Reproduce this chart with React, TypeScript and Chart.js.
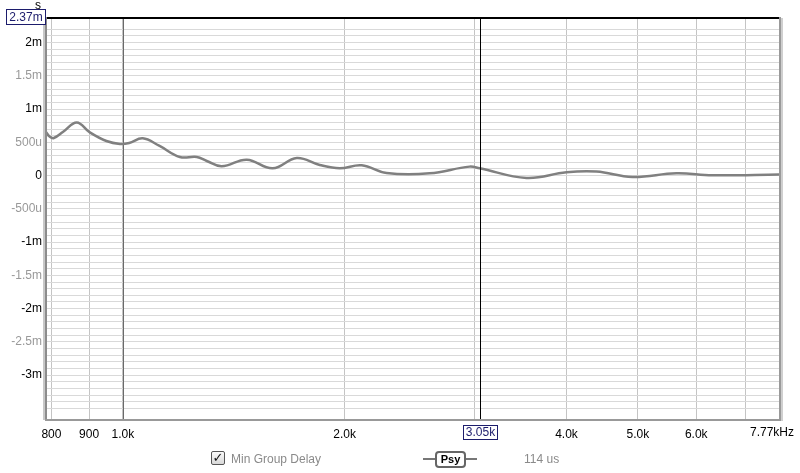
import React, { useEffect, useRef } from "react";
import { Chart, registerables } from "chart.js";

Chart.register(...registerables);

// Frequencies (Hz) and min group delay (ms)
const freqs = [786, 795, 806, 830, 866, 902, 950, 991, 1020, 1064, 1120, 1195, 1260, 1300, 1362, 1473, 1597, 1722, 1850, 1969, 2109, 2280, 2608, 2954, 3049, 3530, 4000, 4392, 4915, 5639, 6310, 7770];
const delayMs = [0.66, 0.59, 0.565, 0.66, 0.8, 0.65, 0.52, 0.475, 0.49, 0.56, 0.45, 0.28, 0.28, 0.22, 0.14, 0.24, 0.11, 0.265, 0.16, 0.11, 0.155, 0.04, 0.035, 0.135, 0.11, -0.035, 0.05, 0.06, -0.02, 0.035, 0.005, 0.015];

const xTickValues = [800, 900, 1000, 2000, 3000, 4000, 5000, 6000, 7000];
const xTickLabels = ["800", "900", "1.0k", "2.0k", "", "4.0k", "5.0k", "6.0k", ""];
const xMin = 789;
const xMax = 7770;
const yMin = -3.66;
const yMax = 2.37;
const yLabelMin = -3;
const markerFreq = 1000;
const cursorFreq = 3050;
const cursorFreqLabel = "3.05k";
const topLabel = "2.37m";
const rightXLabel = "7.77kHz";
const yUnit = "s";

const FONT = "'Liberation Sans', Arial, sans-serif";

function fmtY(v: number): string {
  if (v < yLabelMin - 1e-6) return "";
  const r = Math.round(v * 10) / 10;
  if (Math.abs(v - r) > 1e-6) return "";
  const k = Math.round(r * 10);
  if (k % 5 !== 0) return "";
  if (k === 0) return "0";
  if (Math.abs(k) === 5) return (k < 0 ? "-" : "") + "500u";
  return String(r) + "m";
}

const framePlugin = {
  id: "frame",
  beforeDatasetsDraw(chart: any) {
    const { ctx, chartArea: a, scales } = chart;
    const mx = Math.round(scales.x.getPixelForValue(markerFreq)) + 0.5;
    ctx.save();
    ctx.strokeStyle = "#6a6a6a";
    ctx.lineWidth = 1;
    ctx.beginPath();
    ctx.moveTo(mx, a.top);
    ctx.lineTo(mx, a.bottom);
    ctx.stroke();
    ctx.restore();
  },
  afterDraw(chart: any) {
    const { ctx, chartArea: a, scales } = chart;
    const x = scales.x;
    ctx.save();
    // cursor line
    const cx = Math.round(x.getPixelForValue(cursorFreq)) + 0.5;
    ctx.strokeStyle = "#000";
    ctx.lineWidth = 1;
    ctx.beginPath();
    ctx.moveTo(cx, a.top);
    ctx.lineTo(cx, a.bottom);
    ctx.stroke();
    // frame
    ctx.fillStyle = "#c8c8c8";
    ctx.fillRect(a.left - 4, a.top - 1, 2, a.bottom - a.top + 2);
    ctx.fillStyle = "#8c8c8c";
    ctx.fillRect(a.left - 2, a.top - 1, 2, a.bottom - a.top + 2);
    ctx.fillStyle = "#9a9a9a";
    ctx.fillRect(a.right, a.top - 1, 2, a.bottom - a.top + 2);
    ctx.fillStyle = "#cfcfcf";
    ctx.fillRect(a.right + 2, a.top, 2, a.bottom - a.top + 2);
    ctx.fillStyle = "#000";
    ctx.fillRect(a.left, a.top - 1, a.right - a.left, 2);
    ctx.fillStyle = "#999";
    ctx.fillRect(a.left - 2, a.bottom, a.right - a.left + 4, 2);

    ctx.font = `12px ${FONT}`;
    ctx.textBaseline = "middle";
    // unit label
    ctx.fillStyle = "#000";
    ctx.textAlign = "center";
    ctx.fillText(yUnit, 38, 6);
    // top value box
    ctx.fillStyle = "#fff";
    ctx.fillRect(6.5, 9.5, 39, 15);
    ctx.strokeStyle = "#1c1c6c";
    ctx.strokeRect(6.5, 9.5, 39, 15);
    ctx.fillStyle = "#1c1c6c";
    ctx.textAlign = "center";
    ctx.fillText(topLabel, 26, 17.5);
    // cursor freq box
    const bw = 34;
    ctx.fillStyle = "#fff";
    ctx.fillRect(cx - bw / 2, 425.5, bw, 14);
    ctx.strokeStyle = "#1c1c6c";
    ctx.strokeRect(cx - bw / 2, 425.5, bw, 14);
    ctx.fillStyle = "#1c1c6c";
    ctx.fillText(cursorFreqLabel, cx, 433);
    // right x label
    ctx.fillStyle = "#000";
    ctx.textAlign = "right";
    ctx.fillText(rightXLabel, 794, 433);
    ctx.restore();
  },
};

export default function App() {
  const ref = useRef<HTMLCanvasElement | null>(null);
  useEffect(() => {
    if (!ref.current) return;
    const chart = new Chart(ref.current, {
      type: "line",
      data: {
        datasets: [
          {
            label: "Min Group Delay",
            data: freqs.map((f, i) => ({ x: f, y: delayMs[i] })),
            borderColor: "#808080",
            borderWidth: 2.5,
            pointRadius: 0,
            tension: 0.4,
            fill: false,
          },
        ],
      },
      options: {
        animation: false,
        responsive: false,
        maintainAspectRatio: false,
        layout: { padding: { top: 18, right: 21, left: 0, bottom: 0 } },
        plugins: { legend: { display: false }, tooltip: { enabled: false } },
        scales: {
          x: {
            type: "logarithmic",
            min: xMin,
            max: xMax,
            afterBuildTicks: (s: any) => {
              s.ticks = xTickValues.map((v) => ({ value: v }));
            },
            afterFit: (s: any) => {
              s.height = 54;
            },
            border: { display: false },
            grid: {
              drawTicks: false,
              color: "#c4c4c4",
              lineWidth: 1,
            },
            ticks: {
              autoSkip: false,
              maxRotation: 0,
              padding: 8,
              color: "#000",
              font: { family: FONT, size: 12 },
              callback: (v: any) => {
                const i = xTickValues.indexOf(Number(v));
                return i >= 0 ? xTickLabels[i] : "";
              },
            },
          },
          y: {
            type: "linear",
            min: yMin,
            max: yMax,
            afterFit: (s: any) => {
              s.width = 47;
            },
            border: { display: false },
            grid: {
              drawTicks: false,
              color: "#d9d9d9",
              lineWidth: 1,
            },
            ticks: {
              stepSize: 0.1,
              autoSkip: false,
              padding: 5,
              font: { family: FONT, size: 12 },
              color: (c: any) => {
                const k = Math.round(c.tick.value * 10);
                return k % 10 === 0 ? "#000" : "#999";
              },
              callback: (v: any) => fmtY(Number(v)),
            },
          },
        },
      },
      plugins: [framePlugin],
    } as any);
    return () => chart.destroy();
  }, []);

  const textStyle: React.CSSProperties = {
    position: "absolute",
    fontFamily: FONT,
    fontSize: 12,
    lineHeight: "14px",
    color: "#8a8a8a",
    whiteSpace: "nowrap",
  };

  return (
    <div style={{ position: "absolute", left: 0, top: 0, width: 800, height: 473, background: "#fff" }}>
      <canvas ref={ref} width={800} height={473} style={{ display: "block", width: 800, height: 473 }} />
      <div
        style={{
          position: "absolute",
          left: 211,
          top: 451,
          width: 12,
          height: 12,
          border: "1px solid #555",
          borderRadius: 2,
          background: "linear-gradient(#fafafa,#d8d8d8)",
          fontFamily: "'DejaVu Sans', sans-serif",
          fontSize: 13,
          lineHeight: "12px",
          textAlign: "center",
          color: "#111",
          fontWeight: "bold",
        }}
      >
        ✓
      </div>
      <div style={{ ...textStyle, left: 231, top: 452 }}>Min Group Delay</div>
      <div style={{ position: "absolute", left: 423, top: 458, width: 54, height: 2, background: "#777" }} />
      <div
        style={{
          position: "absolute",
          left: 435,
          top: 451,
          width: 27,
          height: 13,
          border: "2px solid #666",
          borderRadius: 4,
          background: "#fff",
          fontFamily: FONT,
          fontSize: 11,
          lineHeight: "13px",
          textAlign: "center",
          color: "#000",
          fontWeight: "bold",
        }}
      >
        Psy
      </div>
      <div style={{ ...textStyle, left: 524, top: 452 }}>114 us</div>
    </div>
  );
}
